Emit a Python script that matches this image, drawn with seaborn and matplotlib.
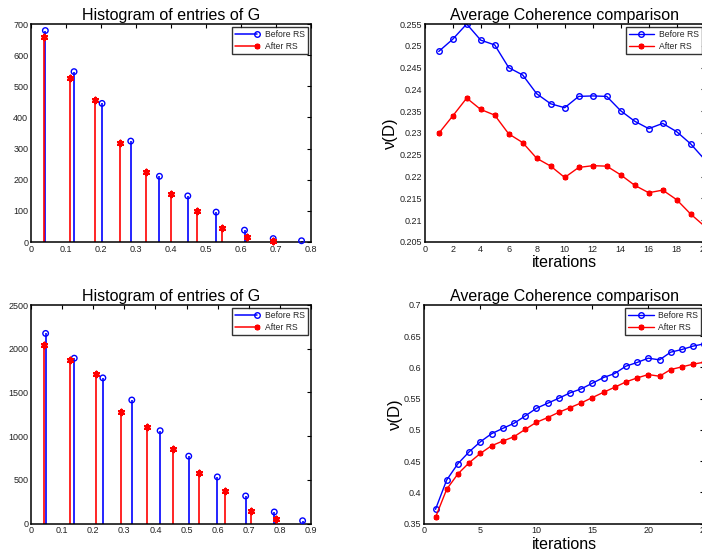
import numpy as np
import pandas as pd
import matplotlib
matplotlib.use("Agg")
import matplotlib.pyplot as plt
from matplotlib.lines import Line2D
from matplotlib.legend_handler import HandlerBase
from matplotlib.ticker import FuncFormatter, MultipleLocator
import seaborn as sns

# ---------------- data ----------------
# top histogram
hist1_before_x = [0.041, 0.123, 0.203, 0.285, 0.367, 0.448, 0.529, 0.610, 0.692, 0.773]
hist1_before_y = [679, 547, 445, 324, 211, 148, 96, 38, 11, 4]
hist1_after_x = [0.037, 0.110, 0.182, 0.255, 0.328, 0.400, 0.473, 0.545, 0.618, 0.691]
hist1_after_y = [658, 526, 457, 318, 226, 154, 99, 44, 16, 4]

# bottom histogram
hist2_before_x = [0.047, 0.139, 0.231, 0.324, 0.415, 0.507, 0.599, 0.690, 0.782, 0.873]
hist2_before_y = [2175, 1892, 1667, 1414, 1063, 772, 535, 317, 134, 34]
hist2_after_x = [0.042, 0.124, 0.208, 0.290, 0.374, 0.456, 0.540, 0.622, 0.706, 0.789]
hist2_after_y = [2041, 1877, 1709, 1277, 1101, 849, 585, 371, 145, 50]

# top coherence
coh1_iter = list(range(1, 21))
coh1_before = [0.2487, 0.2515, 0.2550, 0.2513, 0.2502, 0.2450, 0.2433, 0.2390, 0.2367, 0.2358,
               0.2384, 0.2385, 0.2384, 0.2351, 0.2327, 0.2310, 0.2322, 0.2303, 0.2275, 0.2239]
coh1_after = [0.2299, 0.2339, 0.2380, 0.2354, 0.2341, 0.2298, 0.2278, 0.2242, 0.2224, 0.2198,
              0.2221, 0.2225, 0.2224, 0.2204, 0.2180, 0.2163, 0.2169, 0.2147, 0.2114, 0.2086]

# bottom coherence
coh2_iter = list(range(1, 26))
coh2_before = [0.373, 0.420, 0.446, 0.465, 0.481, 0.494, 0.5025, 0.5106, 0.5223, 0.5346,
               0.5427, 0.5507, 0.5593, 0.5657, 0.5748, 0.5839, 0.5903, 0.6021, 0.6080, 0.6149,
               0.6122, 0.6245, 0.6288, 0.6342, 0.6379]
coh2_after = [0.3602, 0.4051, 0.4297, 0.4474, 0.4624, 0.4747, 0.4822, 0.4891, 0.5009, 0.5122,
              0.5197, 0.5282, 0.5357, 0.5432, 0.5518, 0.5603, 0.5684, 0.5769, 0.5833, 0.5887,
              0.5860, 0.5967, 0.6010, 0.6053, 0.6085]

labels = ["Before RS", "After RS"]
hist_title = "Histogram of entries of G"
coh_title = "Average Coherence comparison"
xlab = "iterations"
ylab = "\u03bd(D)"

# ---------------- style ----------------
sns.set_theme(style="white")
plt.rcParams["font.family"] = ["Liberation Sans", "DejaVu Sans"]
plt.rcParams["axes.linewidth"] = 1.1
plt.rcParams["axes.edgecolor"] = "black"

BLUE = "#0000ff"
RED = "#ff0000"
TXT = "#222222"
ASTER = (6, 2, 0)

fig = plt.figure(figsize=(7.02, 5.55), dpi=100)

W = 280 / 702
H = 218 / 555
ax_tl = fig.add_axes([31 / 702, 1 - 242 / 555, W, H])
ax_tr = fig.add_axes([424.7 / 702, 1 - 242 / 555, W, H])
ax_bl = fig.add_axes([31 / 702, 1 - 523.7 / 555, W, 218.7 / 555])
ax_br = fig.add_axes([424.3 / 702, 1 - 523.7 / 555, W, 218.7 / 555])

gfmt = FuncFormatter(lambda v, p: ("%g" % round(v, 6)))


class StemHandler(HandlerBase):
    def __init__(self, color, marker, mfc, ms, mew):
        super().__init__()
        self.color = color
        self.marker = marker
        self.mfc = mfc
        self.ms = ms
        self.mew = mew

    def create_artists(self, legend, orig_handle, xdescent, ydescent, width, height,
                       fontsize, trans):
        y = height / 2 - ydescent
        x0 = -xdescent
        x1 = width - xdescent
        ln = Line2D([x0, x1], [y, y], color=self.color, lw=1.1, transform=trans)
        mk = Line2D([x1], [y], marker=self.marker, color=self.color, mfc=self.mfc,
                    mec=self.color, ms=self.ms, mew=self.mew, lw=0, transform=trans)
        return [ln, mk]


def style_axes(ax):
    ax.tick_params(direction="in", length=3, width=0.8, top=True, right=True,
                   labelsize=6.5, colors="black", labelcolor=TXT, pad=2)
    for s in ax.spines.values():
        s.set_visible(True)
        s.set_color("black")
        s.set_linewidth(1.1)
    ax.grid(False)
    ax.set_facecolor("white")


def hist_panel(ax, bx, by, axx, ayy, xmax, ymax, ystep):
    ax.vlines(bx, 0, by, color=BLUE, lw=1.2, zorder=2)
    ax.vlines(axx, 0, ayy, color=RED, lw=1.2, zorder=2)
    sns.scatterplot(x=bx, y=by, ax=ax, marker="o", s=16, facecolor="none",
                    edgecolor=BLUE, linewidth=1.0, zorder=3, clip_on=False)
    sns.scatterplot(x=axx, y=ayy, ax=ax, marker=ASTER, s=16, color=RED,
                    edgecolor=RED, linewidth=1.6, zorder=3, clip_on=False)
    ax.set_xlim(0, xmax)
    ax.set_ylim(0, ymax)
    ax.xaxis.set_major_locator(MultipleLocator(0.1))
    ax.yaxis.set_major_locator(MultipleLocator(ystep))
    ax.xaxis.set_major_formatter(gfmt)
    ax.yaxis.set_major_formatter(gfmt)
    ax.set_title(hist_title, fontsize=11.5, color="black", pad=3)
    ax.set_xlabel("")
    ax.set_ylabel("")
    style_axes(ax)
    h1 = Line2D([], [], color=BLUE)
    h2 = Line2D([], [], color=RED)
    leg = ax.legend([h1, h2], labels, loc="upper right", fontsize=6.2,
                    handler_map={h1: StemHandler(BLUE, "o", "none", 4, 1.0),
                                 h2: StemHandler(RED, ASTER, RED, 4, 1.6)},
                    handlelength=2.6, handletextpad=0.9, borderpad=0.35,
                    labelspacing=0.3, borderaxespad=0.35, fancybox=False,
                    frameon=True)
    leg.get_frame().set_edgecolor("black")
    leg.get_frame().set_linewidth(1.0)


def coh_panel(ax, it, b, a, xmax, ylo, yhi, xstep, ystep):
    df = pd.DataFrame({"it": it, "before": b, "after": a})
    sns.lineplot(data=df, x="it", y="before", ax=ax, color=BLUE, lw=1.0, marker="o",
                 markersize=4, markerfacecolor="none", markeredgecolor=BLUE,
                 markeredgewidth=1.0, label=labels[0])
    sns.lineplot(data=df, x="it", y="after", ax=ax, color=RED, lw=1.0, marker=ASTER,
                 markersize=4, markerfacecolor=RED, markeredgecolor=RED,
                 markeredgewidth=1.6, label=labels[1])
    ax.set_xlim(0, xmax)
    ax.set_ylim(ylo, yhi)
    ax.xaxis.set_major_locator(MultipleLocator(xstep))
    ax.yaxis.set_major_locator(MultipleLocator(ystep))
    ax.xaxis.set_major_formatter(gfmt)
    ax.yaxis.set_major_formatter(gfmt)
    ax.set_title(coh_title, fontsize=11.5, color="black", pad=3)
    ax.set_xlabel(xlab, fontsize=11.5, color="black", labelpad=1)
    ax.set_ylabel(ylab, fontsize=12, color="black", labelpad=1)
    style_axes(ax)
    leg = ax.legend(loc="upper right", fontsize=6.2, handlelength=3.0,
                    handletextpad=0.5, borderpad=0.35, labelspacing=0.3,
                    borderaxespad=0.35, fancybox=False, frameon=True)
    leg.get_frame().set_edgecolor("black")
    leg.get_frame().set_linewidth(1.0)


hist_panel(ax_tl, hist1_before_x, hist1_before_y, hist1_after_x, hist1_after_y, 0.8, 700, 100)
hist_panel(ax_bl, hist2_before_x, hist2_before_y, hist2_after_x, hist2_after_y, 0.9, 2500, 500)
coh_panel(ax_tr, coh1_iter, coh1_before, coh1_after, 20, 0.205, 0.255, 2, 0.005)
coh_panel(ax_br, coh2_iter, coh2_before, coh2_after, 25, 0.35, 0.7, 5, 0.05)

fig.savefig("out.png", dpi=100)
